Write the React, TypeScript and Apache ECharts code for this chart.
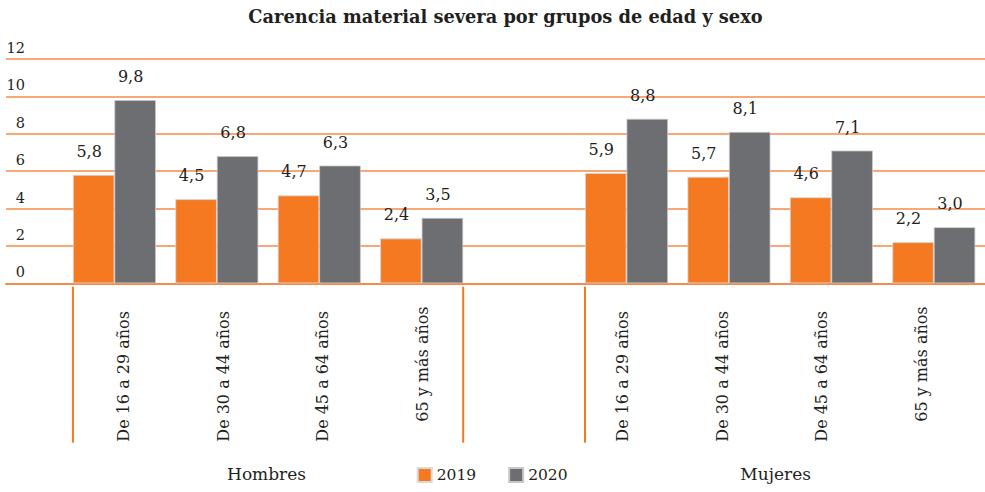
import React, { useEffect, useRef } from "react";
import * as echarts from "echarts";

const title = "Carencia material severa por grupos de edad y sexo";
const ageGroups = ["De 16 a 29 años", "De 30 a 44 años", "De 45 a 64 años", "65 y más años"];
const sexes = ["Hombres", "Mujeres"];
const seriesNames = ["2019", "2020"];
const hombres2019 = [5.8, 4.5, 4.7, 2.4];
const hombres2020 = [9.8, 6.8, 6.3, 3.5];
const mujeres2019 = [5.9, 5.7, 4.6, 2.2];
const mujeres2020 = [8.8, 8.1, 7.1, 3.0];
const yTicks = [0, 2, 4, 6, 8, 10, 12];

const FONT = "DejaVu Serif";
const TEXT = "#231F20";
const ORANGE = "#F47920";
const GRAY = "#6D6E71";
const GRID_LINE = "#F58A4B";
const BAR_W = 41.5;

export default function App() {
  const ref = useRef<HTMLDivElement>(null);
  useEffect(() => {
    if (!ref.current) return;
    const chart = echarts.init(ref.current, null, { renderer: "svg" });
    const slotNames = [...ageGroups.map((a) => sexes[0] + " " + a), "", ...ageGroups.map((a) => sexes[1] + " " + a)];
    const labelSlots = [...ageGroups, "", ...ageGroups];
    const d2019 = [...hombres2019, "-", ...mujeres2019];
    const d2020 = [...hombres2020, "-", ...mujeres2020];
    const fmt = (p: any) => Number(p.value).toFixed(1).replace(".", ",");
    const top = 59;
    const bottom = 208.7;
    const labelStyle = {
      show: true,
      position: "top",
      distance: 15.5,
      offset: [-4.5, 0],
      fontSize: 16,
      fontFamily: FONT,
      color: TEXT,
      formatter: fmt,
    };
    chart.setOption({
      animation: false,
      title: {
        text: title,
        left: 500.5,
        textAlign: "center",
        top: 2,
        textStyle: { fontFamily: FONT, fontWeight: "bold", fontSize: 17.8, color: TEXT },
      },
      legend: {
        data: seriesNames,
        left: 416.7,
        top: 467,
        padding: 0,
        itemWidth: 14,
        itemHeight: 14,
        itemGap: 32,
        icon: "rect",
        textStyle: { fontFamily: FONT, fontSize: 15.5, color: TEXT },
      },
      grid: [
        { left: 6, right: 0, top, bottom },
        { left: 63.2, width: 923.4, top, bottom },
        { left: 73.5, width: 898, top, bottom },
      ],
      xAxis: [
        {
          gridIndex: 0,
          type: "category",
          data: [""],
          axisLine: { show: true, lineStyle: { color: GRID_LINE, width: 2 } },
          axisTick: { show: false },
          axisLabel: { show: false },
        },
        {
          gridIndex: 1,
          type: "category",
          data: slotNames,
          axisLine: { show: false },
          axisTick: { show: false },
          axisLabel: { show: false },
        },
        {
          gridIndex: 2,
          type: "category",
          data: labelSlots,
          axisLine: { show: false },
          axisTick: { show: false },
          axisLabel: {
            show: true,
            interval: 0,
            rotate: 90,
            align: "left",
            verticalAlign: "middle",
            margin: 158.4,
            fontSize: 16,
            fontFamily: FONT,
            color: TEXT,
            formatter: (v: string) => (v === ageGroups[3] ? `{s|${v}}` : v),
            rich: {
              s: { padding: [0, 0, 0, 20], fontSize: 16, fontFamily: FONT, color: TEXT },
            },
          },
        },
      ],
      yAxis: [
        {
          gridIndex: 0,
          type: "value",
          min: yTicks[0],
          max: yTicks[yTicks.length - 1],
          interval: 2,
          axisLine: { show: false },
          axisTick: { show: false },
          splitLine: { show: true, lineStyle: { color: GRID_LINE, width: 1.5 } },
          axisLabel: {
            inside: true,
            align: "right",
            verticalAlign: "bottom",
            lineHeight: 16,
            margin: 19,
            padding: [0, 0, 3, 0],
            fontSize: 14.5,
            fontFamily: FONT,
            color: TEXT,
          },
        },
        { gridIndex: 1, type: "value", min: 0, max: 12, show: false },
        { gridIndex: 2, type: "value", min: 0, max: 12, show: false },
      ],
      series: [
        {
          name: seriesNames[0],
          type: "bar",
          xAxisIndex: 1,
          yAxisIndex: 1,
          data: d2019,
          barWidth: BAR_W,
          barGap: "0%",
          itemStyle: { color: ORANGE, borderColor: "#d9d9d9", borderWidth: 0.8 },
          label: labelStyle,
        },
        {
          name: seriesNames[1],
          type: "bar",
          xAxisIndex: 1,
          yAxisIndex: 1,
          data: d2020,
          barWidth: BAR_W,
          barGap: "0%",
          itemStyle: { color: GRAY, borderColor: "#c8c8c8", borderWidth: 0.8 },
          label: labelStyle,
        },
      ],
    });

    const cx = (i: number) => chart.convertToPixel({ xAxisIndex: 1 }, i) as number;
    const sepTop = 286.7;
    const sepBottom = 442.7;
    const seps = [cx(0) - BAR_W, cx(3) + BAR_W, cx(5) - BAR_W];
    const groupCenters = [(cx(0) + cx(3)) / 2 - 1.5, (cx(5) + cx(8)) / 2 - 4.5];
    chart.setOption({
      graphic: [
        ...seps.map((x) => ({
          type: "line",
          shape: { x1: x, y1: sepTop, x2: x, y2: sepBottom },
          style: { stroke: ORANGE, lineWidth: 2 },
        })),
        ...groupCenters.map((x, i) => ({
          type: "text",
          x,
          y: 473.5,
          style: {
            text: sexes[i],
            align: "center",
            verticalAlign: "middle",
            font: `17px "${FONT}"`,
            fill: TEXT,
          },
        })),
      ],
    });
    return () => chart.dispose();
  }, []);
  return <div ref={ref} style={{ position: "absolute", left: 0, top: 0, width: 985, height: 492 }} />;
}
